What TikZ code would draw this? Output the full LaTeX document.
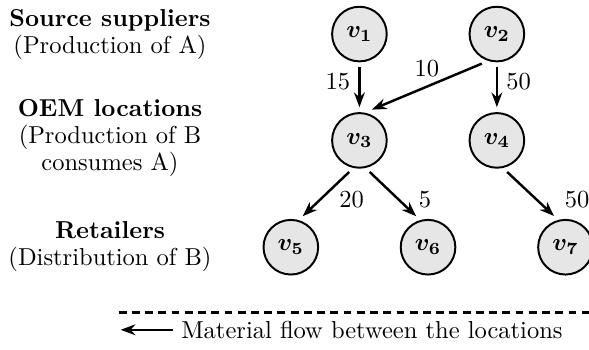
\documentclass[tikz,border=0pt]{standalone}
\usepackage{amsmath,amssymb}
\usepackage{tikz}
\usetikzlibrary{arrows.meta,positioning}
\usepackage{xcolor}
\definecolor{locgray}{HTML}{E6E6E6}

\begin{document}
\begin{tikzpicture}[
    node distance=43.4pt and 56.1pt,
    on grid,
    every node/.style={font=\fontsize{10}{11}\selectfont},
    loc/.style={circle, draw=black, fill=locgray, line width=0.8pt, minimum size=22.3pt, inner sep=0pt, outer sep=2.4pt},
    tier/.style={align=center},
    flow/.style={-{Stealth[length=6pt,width=4.4pt]}, line width=1pt},
    sep line/.style={line width=1pt, dash pattern=on 3.2pt off 2.2pt}
]
\useasboundingbox (-146.7pt,13.9pt) rectangle (93.7pt,-128.6pt);

% Locations
\node[loc] (v1) at (0,0) {$\boldsymbol{v_1}$};
\node[loc, right=of v1] (v2) {$\boldsymbol{v_2}$};
\node[loc, below=of v1] (v3) {$\boldsymbol{v_3}$};
\node[loc, below=of v2] (v4) {$\boldsymbol{v_4}$};
\node[loc, below left=43.6pt and 28pt of v3] (v5) {$\boldsymbol{v_5}$};
\node[loc, below right=43.6pt and 28pt of v3] (v6) {$\boldsymbol{v_6}$};
\node[loc, below right=43.6pt and 28pt of v4] (v7) {$\boldsymbol{v_7}$};

% Tiers
\node[tier, left=101.8pt of v1] (src) {\textbf{Source suppliers}\\(Production of A)};
\node[tier, below=42.3pt of src] (oem) {\textbf{OEM locations}\\(Production of B\\consumes A)};
\node[tier, below=44.5pt of oem] (ret) {\textbf{Retailers}\\(Distribution of B)};

% Material flows
\draw[flow] (v1) -- node[pos=0.37, left] {15} (v3);
\draw[flow] (v2.243) -- node[pos=0.5, above] {10} (v3.68);
\draw[flow] (v2) -- node[pos=0.37, right] {50} (v4);
\draw[flow] (v3.252) -- node[pos=0.62, right=3.9pt] {20} (v5.69);
\draw[flow] (v3.288) -- node[pos=0.62, right=4.5pt] {5} (v6.111);
\draw[flow] (v4.288) -- node[pos=0.62, right=7.8pt] {50} (v7.110);

% Legend
\node[below=77.3pt of v3, xshift=5.1pt] (leg) {Material flow between the locations};
\coordinate[left=21.2pt of leg.west] (legtip);
\draw[flow] (leg.west) -- (legtip);
\coordinate[above left=7.1pt and 0.8pt of legtip] (dashL);
\coordinate[right=192.3pt of dashL] (dashR);
\draw[sep line] (dashL) -- (dashR);

\end{tikzpicture}
\end{document}
